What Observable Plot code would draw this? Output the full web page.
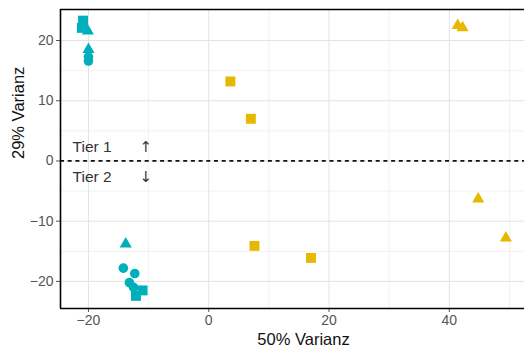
<!DOCTYPE html>
<html><head><meta charset="utf-8">
<script src="https://cdn.jsdelivr.net/npm/d3@7"></script>
<script src="https://cdn.jsdelivr.net/npm/@observablehq/plot@0.6"></script>
<style>body{margin:0;background:#fff}</style>
</head><body><div id="chart"></div>
<script>
// PCA scores
const pc1   = [-20.9, -21.1, -20.1, -20.0, -20.0, -20.0, -13.8, -14.2, -12.3, -13.2, -12.5, -12.1, -11.0, 3.6, 7.0, 7.6, 17.0, 41.4, 42.2, 44.8, 49.4];
const pc2   = [23.3, 22.1, 21.6, 18.5, 17.3, 16.6, -13.8, -17.8, -18.7, -20.2, -21.0, -22.4, -21.5, 13.2, 7.0, -14.1, -16.1, 22.5, 22.1, -6.3, -12.8];
const group = ["A","A","A","A","A","A","A","A","A","A","A","A","A","B","B","B","B","B","B","B","B"];
const shape = ["square","square","triangle","triangle","circle","circle","triangle","circle","circle","circle","circle","square","square","square","square","square","square","triangle","triangle","triangle","triangle"];
const groupNames = ["A", "B"];
const groupColors = ["#00AFBB", "#E7B800"];

const xMajor = [-20, 0, 20, 40];
const xMinor = [-10, 10, 30, 50];
const yMajor = [-20, -10, 0, 10, 20];
const yMinor = [-15, -5, 5, 15];
const xDomain = [-24.65, 52.5];
const yDomain = [-24.5, 25.15];

const labels = [
  {x: -22.64, y: 2.33, text: "Tier 1"},
  {x: -22.64, y: -2.66, text: "Tier 2"}
];
const arrows = [
  {x: -10.47, y: 2.33, text: "↑"},
  {x: -10.47, y: -2.66, text: "↓"}
];

const data = pc1.map((x, i) => ({x, y: pc2[i], g: group[i], s: shape[i]}));
const rOf = {circle: 4.8, square: 5.6, triangle: 4.5};

const dotMarks = ["circle", "square", "triangle"].map(s =>
  Plot.dot(data.filter(d => d.s === s), {x: "x", y: "y", fill: "g", symbol: s, r: rOf[s], stroke: "none"})
);

const chart = Plot.plot({
  width: 524, height: 349,
  marginLeft: 60, marginTop: 9, marginBottom: 41, marginRight: 0,
  style: {fontFamily: "Liberation Sans, Arial, sans-serif", background: "white"},
  x: {domain: xDomain},
  y: {domain: yDomain},
  color: {domain: groupNames, range: groupColors},
  marks: [
    Plot.ruleX(xMinor, {stroke: "#EEEEEE", strokeWidth: 0.8}),
    Plot.ruleY(yMinor, {stroke: "#EEEEEE", strokeWidth: 0.8}),
    Plot.ruleX(xMajor, {stroke: "#E3E3E3", strokeWidth: 1}),
    Plot.ruleY(yMajor, {stroke: "#E3E3E3", strokeWidth: 1}),
    Plot.ruleY([0], {stroke: "#111", strokeWidth: 1.8, strokeDasharray: "4,3.7"}),
    ...dotMarks,
    Plot.text(labels, {x: "x", y: "y", text: "text", textAnchor: "start", fontSize: 15.5, fill: "#333", lineAnchor: "middle"}),
    Plot.text(arrows, {x: "x", y: "y", text: "text", textAnchor: "middle", fontSize: 15, fontFamily: "DejaVu Sans", fill: "#333", lineAnchor: "middle"}),
    Plot.axisX(xMajor, {tickSize: 4, tickPadding: 3, fontSize: 14, color: "#555", label: null}),
    Plot.axisY(yMajor, {tickSize: 4, tickPadding: 3, fontSize: 14, color: "#555", label: null}),
    Plot.ruleX([xDomain[0]], {stroke: "#000", strokeWidth: 1.6}),
    Plot.ruleY([yDomain[0], yDomain[1]], {stroke: "#000", strokeWidth: 1.6}),
    Plot.text(["50% Varianz"], {text: d => d, frameAnchor: "bottom", lineAnchor: "middle", dx: 11, dy: 31, fontSize: 16.5, fill: "#111"}),
    Plot.text(["29% Varianz"], {text: d => d, frameAnchor: "left", lineAnchor: "middle", rotate: -90, dx: -42, fontSize: 16.5, fill: "#111"})
  ]
});
document.getElementById("chart").appendChild(chart);
</script>
</body></html>
